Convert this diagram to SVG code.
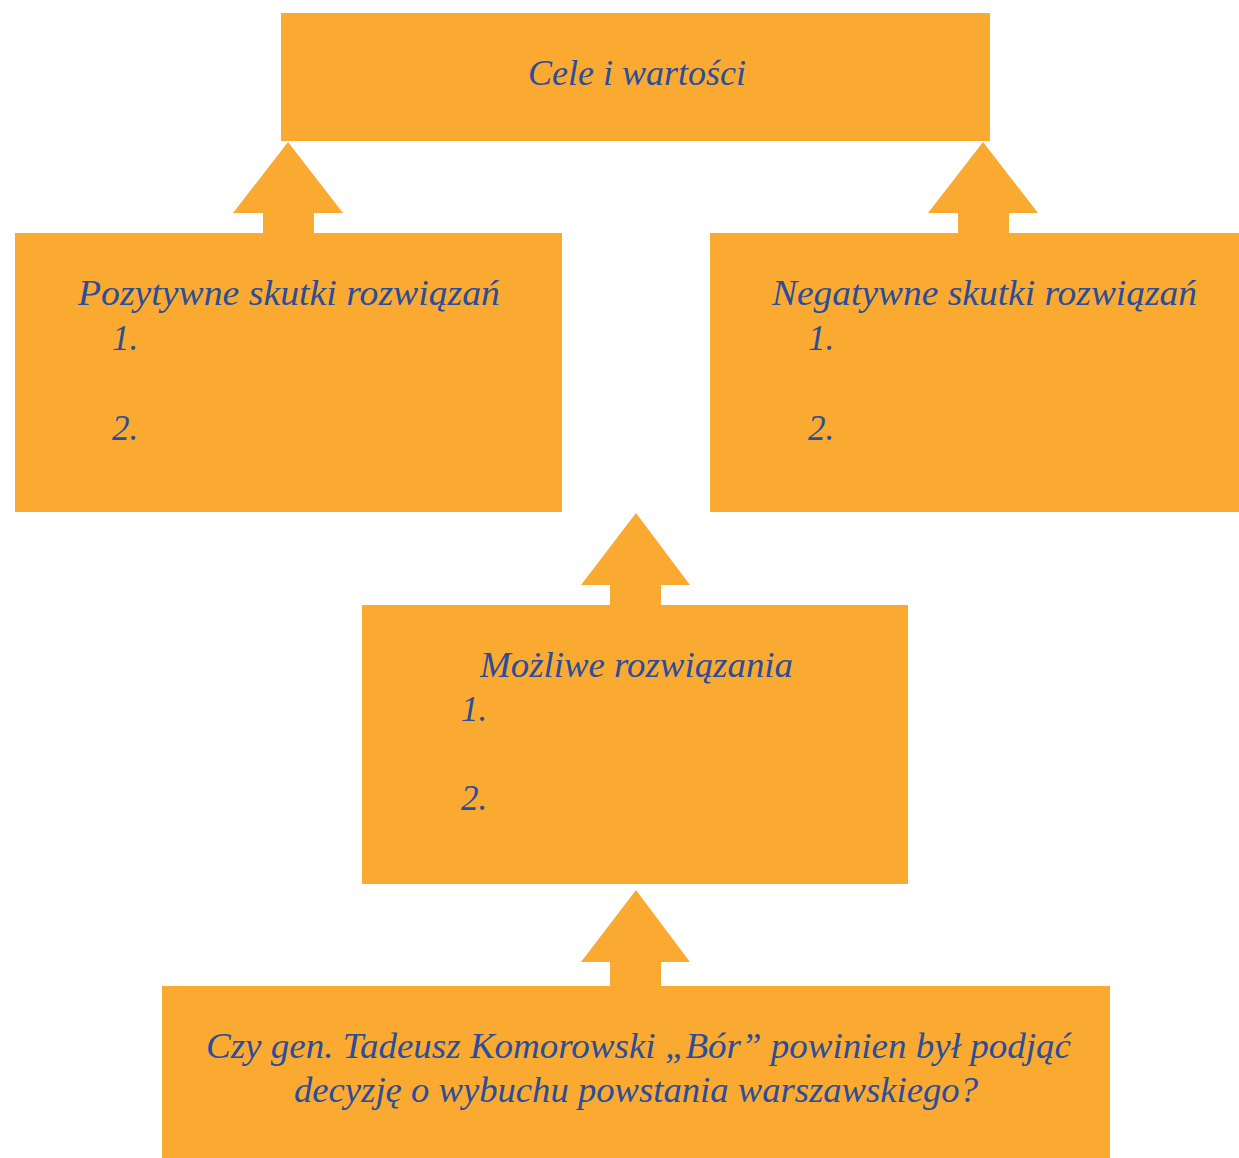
<svg xmlns="http://www.w3.org/2000/svg" width="1239" height="1158" viewBox="0 0 1239 1158">
<style>
.box{fill:#FBAA31}
.arr{fill:#FBAA31}
text{font-family:"Liberation Serif","DejaVu Serif",serif;font-style:italic;fill:#2A4D9C;font-size:35px}
</style>
<rect width="1239" height="1158" fill="#FFFFFF"/>
<g id="connectors">
<polygon class="arr" points="288,142 343,213 314,213 314,234 263,234 263,213 233,213"/>
<polygon class="arr" points="983,142 1038,213 1009,213 1009,234 958,234 958,213 928,213"/>
<polygon class="arr" points="636,513 690,585 661,585 661,606 610,606 610,585 581,585"/>
<polygon class="arr" points="636,890 690,962 661,962 661,987 610,987 610,962 581,962"/>
</g>
<g id="cele">
<rect class="box" x="281" y="13" width="709" height="128"/>
<text x="528" y="85" textLength="218" lengthAdjust="spacingAndGlyphs">Cele i wartości</text>
</g>
<g id="pozytywne">
<rect class="box" x="15" y="233" width="547" height="279"/>
<text x="78" y="305" textLength="422" lengthAdjust="spacingAndGlyphs">Pozytywne skutki rozwiązań</text>
<text x="112" y="350">1.</text>
<text x="112" y="440">2.</text>
</g>
<g id="negatywne">
<rect class="box" x="710" y="233" width="529" height="279"/>
<text x="772" y="305" textLength="425" lengthAdjust="spacingAndGlyphs">Negatywne skutki rozwiązań</text>
<text x="808" y="350">1.</text>
<text x="808" y="440">2.</text>
</g>
<g id="mozliwe">
<rect class="box" x="362" y="605" width="546" height="279"/>
<text x="480" y="677" textLength="313" lengthAdjust="spacingAndGlyphs">Możliwe rozwiązania</text>
<text x="461" y="721">1.</text>
<text x="461" y="810">2.</text>
</g>
<g id="pytanie">
<rect class="box" x="162" y="986" width="948" height="172"/>
<text x="206" y="1058" textLength="865" lengthAdjust="spacingAndGlyphs">Czy gen. Tadeusz Komorowski „Bór” powinien był podjąć</text>
<text x="294" y="1102" textLength="684" lengthAdjust="spacingAndGlyphs">decyzję o wybuchu powstania warszawskiego?</text>
</g>
</svg>
